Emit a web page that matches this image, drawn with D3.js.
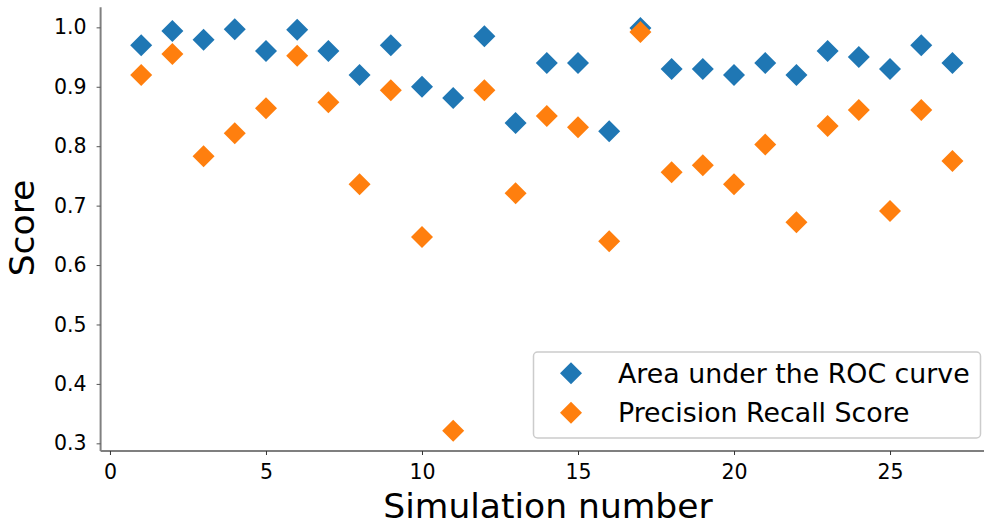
<!DOCTYPE html>
<html>
<head>
<meta charset="utf-8">
<script src="https://cdn.jsdelivr.net/npm/d3@7"></script>
<style>
  body { margin: 0; background: #fff; }
  svg { display: block; font-family: "DejaVu Sans", sans-serif; }
</style>
</head>
<body>
<svg id="chart" width="984" height="526"></svg>
<script>
// simulation runs 1..27
const simulations = d3.range(1, 28);
const rocScores = [0.970, 0.994, 0.979, 0.997, 0.960, 0.996, 0.960, 0.920, 0.970, 0.900,
  0.881, 0.985, 0.839, 0.940, 0.940, 0.825, 0.999, 0.930, 0.930, 0.920,
  0.940, 0.920, 0.960, 0.950, 0.930, 0.970, 0.940];
const prScores = [0.920, 0.955, 0.783, 0.822, 0.864, 0.952, 0.874, 0.736, 0.894, 0.647,
  0.321, 0.894, 0.721, 0.851, 0.832, 0.640, 0.992, 0.756, 0.768, 0.736,
  0.803, 0.672, 0.834, 0.861, 0.691, 0.861, 0.775];
const xTicks = [0, 5, 10, 15, 20, 25];
const yTicks = [0.3, 0.4, 0.5, 0.6, 0.7, 0.8, 0.9, 1.0];
const seriesNames = ["Area under the ROC curve", "Precision Recall Score"];
const colors = ["#1f77b4", "#ff7f0e"];

const svg = d3.select("#chart");
const plotLeft = 100.6, plotTop = 7.2, plotRight = 993, plotBottom = 451;

const x = d3.scaleLinear().domain([-0.3, 28.3]).range([plotLeft, plotRight]);
const y = d3.scaleLinear().domain([0.2871, 1.0339]).range([plotBottom, plotTop]);

// diamond marker
const diamond = (r) => `M0,${-r}L${r},0L0,${r}L${-r},0Z`;

// axes
const xAxis = svg.append("g")
  .attr("transform", `translate(0,${plotBottom})`)
  .call(d3.axisBottom(x).tickValues(xTicks).tickSize(4).tickPadding(6).tickFormat(d3.format("d")));
xAxis.select(".domain").attr("stroke", "#000").attr("stroke-width", 1.2).attr("d", `M${plotLeft},0H${plotRight}`);
xAxis.selectAll(".tick line").attr("stroke", "#333");
xAxis.selectAll(".tick text").attr("font-size", 20.5).attr("fill", "#000").attr("dy", "0.88em")
  .attr("font-family", "DejaVu Sans");

const yAxis = svg.append("g")
  .attr("transform", `translate(${plotLeft},0)`)
  .call(d3.axisLeft(y).tickValues(yTicks).tickSize(4).tickPadding(10).tickFormat(d3.format(".1f")));
yAxis.select(".domain").attr("stroke", "#808080").attr("stroke-width", 2).attr("d", `M0,${plotTop}V${plotBottom}`);
yAxis.selectAll(".tick line").attr("stroke", "#555");
yAxis.selectAll(".tick text").attr("font-size", 20.5).attr("fill", "#000")
  .attr("font-family", "DejaVu Sans");

// axis labels
svg.append("text")
  .attr("x", 548).attr("y", 518)
  .attr("text-anchor", "middle")
  .attr("font-size", 34.5)
  .text("Simulation number");

svg.append("text")
  .attr("transform", "translate(34,228) rotate(-90)")
  .attr("text-anchor", "middle")
  .attr("font-size", 34.5)
  .text("Score");

// points
[rocScores, prScores].forEach((vals, i) => {
  svg.append("g").selectAll("path")
    .data(vals)
    .join("path")
    .attr("transform", (d, j) => `translate(${x(simulations[j])},${y(d)})`)
    .attr("d", diamond(11))
    .attr("fill", colors[i]);
});

// legend
const legend = svg.append("g");
legend.append("rect")
  .attr("x", 533.5).attr("y", 352).attr("width", 447).attr("height", 86)
  .attr("rx", 4)
  .attr("fill", "#fff").attr("fill-opacity", 0.8)
  .attr("stroke", "#ccc").attr("stroke-width", 1.5);
seriesNames.forEach((name, i) => {
  const cy = 373.3 + i * 39.5;
  legend.append("path")
    .attr("transform", `translate(571,${cy})`)
    .attr("d", diamond(11))
    .attr("fill", colors[i]);
  legend.append("text")
    .attr("x", 618).attr("y", cy + 9.5)
    .attr("font-size", 26.8)
    .text(name);
});
</script>
</body>
</html>
